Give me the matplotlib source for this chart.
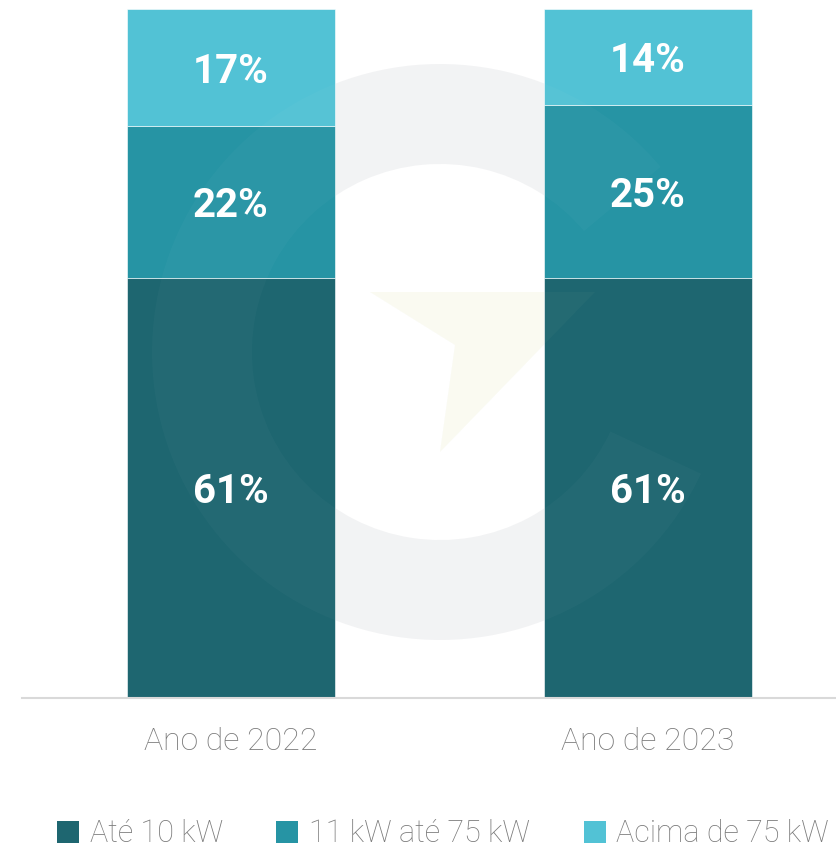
#!/usr/bin/env python3
import matplotlib.pyplot as plt
from matplotlib.patches import Wedge, Polygon, Patch

# DATA
years = ['Ano de 2022', 'Ano de 2023']
series_names = ['Até 10 kW', '11 kW até 75 kW', 'Acima de 75 kW']
ate_10 = [61, 61]
de_11_a_75 = [22, 25]
acima_75 = [17, 14]
colors = ['#1e6670', '#2694a4', '#52c2d5']

plt.rcParams['font.family'] = ['Roboto', 'DejaVu Sans']

fig = plt.figure(figsize=(8.36, 8.49), dpi=100)


# faint watermark logo: ring + arrow
def draw_logo(target, ring_color, ring_alpha, arrow_color, arrow_alpha):
    target.add_patch(Wedge((440, 352), 288, 25, 320, width=100, facecolor=ring_color,
                           alpha=ring_alpha, edgecolor='none'))
    target.add_patch(Polygon([(370, 292), (595, 292), (440, 452), (455, 345)],
                             closed=True, facecolor=arrow_color, alpha=arrow_alpha,
                             edgecolor='none'))


back = fig.add_axes([0, 0, 1, 1], zorder=0)
back.set_xlim(0, 836)
back.set_ylim(849, 0)
back.axis('off')
draw_logo(back, '#606878', 0.08, '#c8d060', 0.07)

ax = fig.add_axes([22 / 836, 1 - 698 / 849, 1 - 22 / 836, (698 - 9) / 849], zorder=1)
ax.patch.set_alpha(0)

x = list(range(len(years)))
bottom = [0, 0]
for vals, name, col in zip([ate_10, de_11_a_75, acima_75], series_names, colors):
    bars = ax.bar(x, vals, width=0.5, bottom=bottom, color=col, label=name,
                  edgecolor='#ffffff', linewidth=0.4)
    for b, v, b0 in zip(bars, vals, bottom):
        ax.text(b.get_x() + b.get_width() / 2, b0 + v / 2 - 0.6, f'{v}%',
                ha='center', va='center', color='white',
                fontsize=29, fontweight='bold')
    bottom = [b0 + v for b0, v in zip(bottom, vals)]

ax.set_xlim(-0.501, 1.451)
ax.set_ylim(0, 100)
ax.set_yticks([])
ax.set_xticks(x)
ax.set_xticklabels(years, fontsize=23, fontweight='light', color='#7a7a7a')
ax.tick_params(axis='x', length=0, pad=21)
for s in ['top', 'left', 'right']:
    ax.spines[s].set_visible(False)
ax.spines['bottom'].set_color('#d9d9d9')
ax.spines['bottom'].set_linewidth(1.5)

handles = [Patch(facecolor=c, label=n) for c, n in zip(colors, series_names)]
leg = fig.legend(handles=handles, loc='center', bbox_to_anchor=(0.53, 1 - 834 / 849),
                 ncol=3, frameon=False, fontsize=22, handlelength=0.72,
                 handleheight=0.72, handletextpad=0.35, columnspacing=1.75)
for t in leg.get_texts():
    t.set_color('#7a7a7a')
    t.set_fontweight('light')

# very light overlay of the logo on top of the bars
front = fig.add_axes([0, 0, 1, 1], zorder=5)
front.set_xlim(0, 836)
front.set_ylim(849, 0)
front.axis('off')
front.patch.set_alpha(0)
draw_logo(front, '#ffffff', 0.025, '#f0f4c0', 0.03)

fig.savefig('out.png', dpi=100)
plt.close(fig)
